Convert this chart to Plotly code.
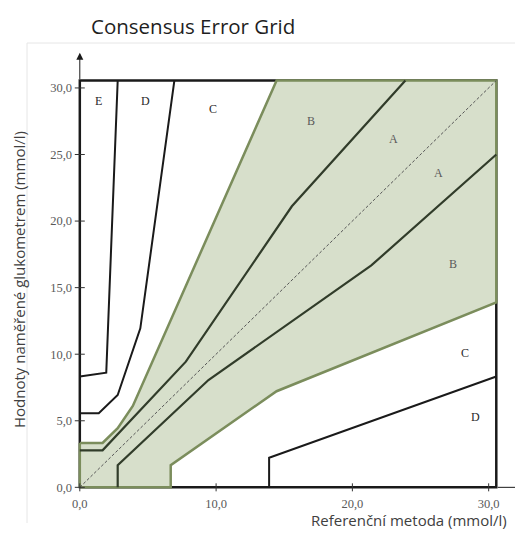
import plotly.graph_objects as go

# ---- data (mmol/l) ----
GRID_MAX = 30.56

zone_a_upper_x = [0, 1.67, 7.78, 15.56, 23.89]
zone_a_upper_y = [2.78, 2.78, 9.44, 21.11, 30.56]
zone_a_lower_x = [2.78, 2.78, 9.44, 21.39, 30.56]
zone_a_lower_y = [0, 1.67, 8.06, 16.67, 25.0]
zone_b_upper_x = [0, 1.67, 2.78, 3.89, 14.44]
zone_b_upper_y = [3.33, 3.33, 4.44, 6.11, 30.56]
zone_b_lower_x = [6.67, 6.67, 14.44, 30.56]
zone_b_lower_y = [0, 1.67, 7.22, 13.89]
zone_c_upper_x = [0, 1.39, 2.78, 4.44, 6.94]
zone_c_upper_y = [5.56, 5.56, 6.94, 11.94, 30.56]
zone_c_lower_x = [13.89, 13.89, 30.56]
zone_c_lower_y = [0, 2.22, 8.33]
zone_d_upper_x = [0, 1.94, 2.78]
zone_d_upper_y = [8.33, 8.61, 30.56]

zone_labels = ["E", "D", "C", "B", "A", "A", "B", "C", "D"]
zone_label_x = [1.35, 4.8, 9.75, 17.0, 23.0, 26.3, 27.4, 28.3, 29.0]
zone_label_y = [29.0, 29.0, 28.4, 27.5, 26.2, 23.6, 16.8, 10.1, 5.3]
zone_label_in_green = [False, False, False, True, True, True, True, False, False]

x_tick_vals = [0, 10, 20, 30]
x_tick_text = ["0,0", "10,0", "20,0", "30,0"]
y_tick_vals = [0, 5, 10, 15, 20, 25, 30]
y_tick_text = ["0,0", "5,0", "10,0", "15,0", "20,0", "25,0", "30,0"]

title_text = "Consensus Error Grid"
x_title = "Referenční metoda (mmol/l)"
y_title = "Hodnoty naměřené glukometrem (mmol/l)"

# ---- layout geometry ----
W, H = 523, 534
PAGE_OFF = 8  # default body margin of the html page
ML, MR, MT, MB = 65, 8, 40, 48
XR = [-0.5, 32.52]
YR = [-0.5, 33.0]
X_ARROW_END = 32.45
Y_ARROW_END = 32.65


def px_to_paper(px, py):
    """screen pixel -> paper coordinates"""
    pw = W - ML - MR
    ph = H - MT - MB
    fx = px - PAGE_OFF
    fy = py - PAGE_OFF
    return (fx - ML) / pw, (H - MB - fy) / ph


BLACK = "#1a1a1a"
GREEN_EDGE = "#7b8d5c"
GREEN_FILL = "#d7dfcb"
A_LINE = "#313c2a"

fig = go.Figure()

# outer box
fig.add_trace(go.Scatter(
    x=[0, 0, GRID_MAX, GRID_MAX, 0], y=[0, GRID_MAX, GRID_MAX, 0, 0],
    mode="lines", line=dict(color=BLACK, width=2.5), hoverinfo="skip"))

# green A+B region
poly_x = zone_b_upper_x + [GRID_MAX] + zone_b_lower_x[::-1] + [0, zone_b_upper_x[0]]
poly_y = zone_b_upper_y + [GRID_MAX] + zone_b_lower_y[::-1] + [0, zone_b_upper_y[0]]
fig.add_trace(go.Scatter(
    x=poly_x, y=poly_y, mode="lines", fill="toself", fillcolor=GREEN_FILL,
    line=dict(color=GREEN_EDGE, width=2.5), hoverinfo="skip"))

# zone A boundaries
for xs, ys in [(zone_a_upper_x, zone_a_upper_y), (zone_a_lower_x, zone_a_lower_y)]:
    fig.add_trace(go.Scatter(x=xs, y=ys, mode="lines",
                             line=dict(color=A_LINE, width=2.2), hoverinfo="skip"))

# zone C, D boundaries
for xs, ys in [(zone_c_upper_x, zone_c_upper_y), (zone_c_lower_x, zone_c_lower_y),
               (zone_d_upper_x, zone_d_upper_y)]:
    fig.add_trace(go.Scatter(x=xs, y=ys, mode="lines",
                             line=dict(color=BLACK, width=2), hoverinfo="skip"))

# identity line
fig.add_trace(go.Scatter(x=[0, GRID_MAX], y=[0, GRID_MAX], mode="lines",
                         line=dict(color="#555555", width=1, dash="3px,2px"),
                         hoverinfo="skip"))

annotations = []
shapes = []

# axis arrows
annotations.append(dict(x=X_ARROW_END, y=0, ax=GRID_MAX, ay=0, xref="x", yref="y",
                        axref="x", ayref="y", text="", showarrow=True, arrowhead=2,
                        arrowsize=1.4, arrowwidth=1, arrowcolor=BLACK))
annotations.append(dict(x=0, y=Y_ARROW_END, ax=0, ay=GRID_MAX, xref="x", yref="y",
                        axref="x", ayref="y", text="", showarrow=True, arrowhead=2,
                        arrowsize=1.4, arrowwidth=1, arrowcolor=BLACK))

# tick marks crossing axes
for v in x_tick_vals:
    shapes.append(dict(type="line", xref="x", yref="y", x0=v, x1=v,
                       ysizemode="pixel", yanchor=0, y0=-4, y1=4,
                       line=dict(color="#333333", width=1)))
for v in y_tick_vals:
    shapes.append(dict(type="line", xref="x", yref="y", y0=v, y1=v,
                       xsizemode="pixel", xanchor=0, x0=-5, x1=5,
                       line=dict(color="#333333", width=1)))

# zone labels
for t, lx, ly, g in zip(zone_labels, zone_label_x, zone_label_y, zone_label_in_green):
    annotations.append(dict(x=lx, y=ly, xref="x", yref="y", text=t, showarrow=False,
                            font=dict(family="Liberation Serif", size=12,
                                      color="#5a5a5a" if g else "#2a2a2a")))

# title and axis titles
tx, ty = px_to_paper(193, 26)
annotations.append(dict(x=tx, y=ty, xref="paper", yref="paper", text=title_text,
                        showarrow=False, xanchor="center", yanchor="middle",
                        font=dict(family="Open Sans", size=20.5, color="#1f1f1f")))
ax_, ay_ = px_to_paper(409, 520)
annotations.append(dict(x=ax_, y=ay_, xref="paper", yref="paper", text=x_title,
                        showarrow=False, xanchor="center", yanchor="middle", borderpad=0,
                        font=dict(family="Open Sans", size=15, color="#404040")))
bx_, by_ = px_to_paper(19, 280)
annotations.append(dict(x=bx_, y=by_, xref="paper", yref="paper", text=y_title,
                        showarrow=False, xanchor="center", yanchor="middle", textangle=-90,
                        font=dict(family="Open Sans", size=15, color="#404040")))

# faint frame lines
fx0, fy0 = px_to_paper(27, 43)
fx1, fy1 = px_to_paper(523, 523)
shapes.append(dict(type="line", xref="paper", yref="paper", x0=fx0, x1=fx1, y0=fy0, y1=fy0,
                   line=dict(color="#e6e6e6", width=1)))
shapes.append(dict(type="line", xref="paper", yref="paper", x0=fx0, x1=fx0, y0=fy0, y1=fy1,
                   line=dict(color="#e6e6e6", width=1)))

fig.update_layout(
    width=W, height=H,
    margin=dict(l=ML, r=MR, t=MT, b=MB),
    paper_bgcolor="white", plot_bgcolor="white",
    showlegend=False,
    annotations=annotations, shapes=shapes,
    xaxis=dict(range=XR, showgrid=False, zeroline=False, showline=False,
               tickmode="array", tickvals=x_tick_vals, ticktext=x_tick_text,
               ticks="", tickfont=dict(family="Liberation Serif", size=12.5, color="#595959")),
    yaxis=dict(range=YR, showgrid=False, zeroline=False, showline=False,
               tickmode="array", tickvals=y_tick_vals, ticktext=y_tick_text,
               ticks="", tickfont=dict(family="Liberation Serif", size=12.5, color="#595959")),
)

fig.write_html("out.html")
